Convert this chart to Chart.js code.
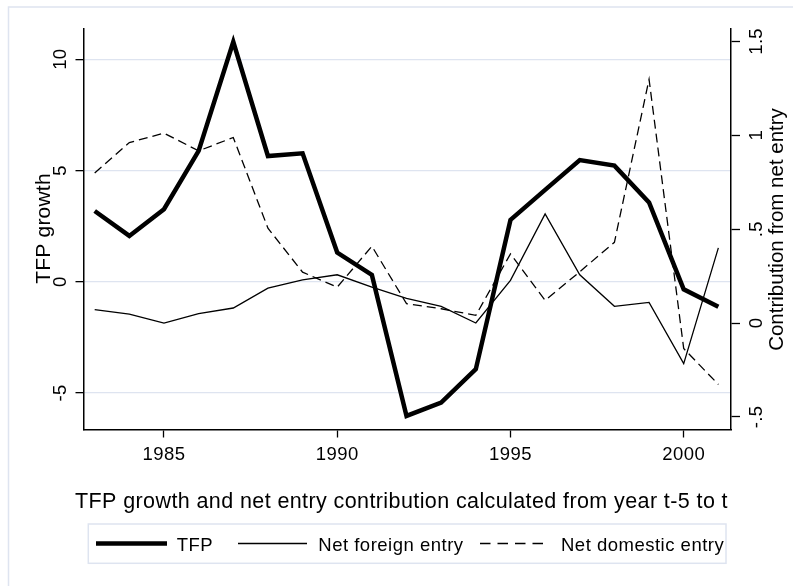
<!DOCTYPE html>
<html>
<head>
<meta charset="utf-8">
<script src="https://cdn.jsdelivr.net/npm/chart.js@4.4.0/dist/chart.umd.min.js"></script>
<style>
  html, body { margin: 0; padding: 0; background: #fff; }
  #wrap { position: relative; width: 793px; height: 586px; }
</style>
</head>
<body>
<div id="wrap"><canvas id="c" width="793" height="586"></canvas></div>
<script>
// Years on the horizontal axis
const years = [1983, 1984, 1985, 1986, 1987, 1988, 1989, 1990, 1991, 1992,
               1993, 1994, 1995, 1996, 1997, 1998, 1999, 2000, 2001];

// TFP growth (left axis)
const tfpGrowth = [3.18, 2.06, 3.26, 5.88, 10.78, 5.65, 5.77, 1.31, 0.31, -6.03,
                   -5.43, -3.93, 2.78, 4.13, 5.47, 5.22, 3.56, -0.34, -1.12];

// Contribution from net foreign entry (right axis)
const netForeignEntry = [0.071, 0.048, 0.0, 0.050, 0.080, 0.186, 0.230, 0.257, 0.191, 0.131,
                         0.089, 0.0, 0.227, 0.581, 0.257, 0.089, 0.110, -0.216, 0.40];

// Contribution from net domestic entry (right axis)
const netDomesticEntry = [0.799, 0.961, 1.011, 0.917, 0.988, 0.505, 0.271, 0.191, 0.409, 0.103,
                          0.076, 0.041, 0.368, 0.121, 0.273, 0.430, 1.298, -0.136, -0.327];

// Tick values and labels
const xTicks = [1985, 1990, 1995, 2000];
const leftTicks = [-5, 0, 5, 10];
const rightTicks = [-0.5, 0, 0.5, 1, 1.5];
const rightTickLabels = ['-.5', '0', '.5', '1', '1.5'];

// Text
const seriesLabels = ['TFP', 'Net foreign entry', 'Net domestic entry'];
const xTitle = 'TFP growth and net entry contribution calculated from year t-5 to t';
const leftTitle = 'TFP growth';
const rightTitle = 'Contribution from net entry';

const ink = '#000';
const pale = 'rgb(222,228,240)';
const FAMILY = '"Liberation Sans", Arial, Helvetica, sans-serif';

function pts(vals) { return years.map((y, i) => ({ x: y, y: vals[i] })); }

function txt(ctx, s, x, y, size, align, rot, spacing) {
  ctx.save();
  ctx.translate(x, y);
  if (rot) ctx.rotate(rot);
  ctx.font = size + 'px ' + FAMILY;
  ctx.fillStyle = ink;
  ctx.textAlign = align;
  ctx.textBaseline = 'alphabetic';
  if ('letterSpacing' in ctx) ctx.letterSpacing = spacing || '0px';
  ctx.fillText(s, 0, 0);
  ctx.restore();
}

// Outer frame, tick labels, axis titles and the legend box
const decorations = {
  id: 'decorations',
  beforeDraw(chart) {
    const ctx = chart.ctx;
    ctx.save();
    ctx.fillStyle = '#fff';
    ctx.fillRect(0, 0, chart.width, chart.height);
    ctx.strokeStyle = pale;
    ctx.lineWidth = 1.5;
    ctx.strokeRect(8.5, 7, 800, 600);
    ctx.restore();
  },
  afterDraw(chart) {
    const ctx = chart.ctx;
    const sx = chart.scales.x, sy = chart.scales.y, sy2 = chart.scales.y2;
    const up = -Math.PI / 2;

    xTicks.forEach(v => txt(ctx, String(v), sx.getPixelForValue(v), 460, 18.5, 'center', 0, '0.5px'));
    leftTicks.forEach(v => txt(ctx, String(v), 65.5, sy.getPixelForValue(v), 18.5, 'center', up, '0.3px'));
    rightTicks.forEach((v, i) => txt(ctx, rightTickLabels[i], 762, sy2.getPixelForValue(v), 18.5, 'center', up, '0.3px'));

    txt(ctx, leftTitle, 50, 228.5, 21, 'center', up, '0.2px');
    txt(ctx, rightTitle, 783, 229.5, 20.5, 'center', up, '0px');
    txt(ctx, xTitle, 401.5, 507.7, 21.5, 'center', 0, '0.4px');

    // legend
    ctx.save();
    ctx.strokeStyle = pale;
    ctx.lineWidth = 1.5;
    ctx.strokeRect(88.3, 524, 637.7, 39.3);
    const keys = [[96, 167, 176.7], [238, 307, 318.3], [480, 543, 561]];
    chart.data.datasets.forEach((ds, i) => {
      const k = keys[i];
      ctx.beginPath();
      ctx.strokeStyle = ds.borderColor;
      ctx.lineWidth = ds.borderWidth;
      ctx.setLineDash(ds.borderDash ? [10.5, 7] : []);
      ctx.moveTo(k[0], 543.5);
      ctx.lineTo(k[1], 543.5);
      ctx.stroke();
      ctx.setLineDash([]);
      txt(ctx, ds.label, k[2], 550.7, 18.5, 'left', 0, '0.5px');
    });
    ctx.restore();
  }
};

new Chart(document.getElementById('c'), {
  type: 'line',
  data: {
    datasets: [
      { label: seriesLabels[0], data: pts(tfpGrowth), yAxisID: 'y',
        borderColor: ink, borderWidth: 4.5, pointRadius: 0, tension: 0, fill: false },
      { label: seriesLabels[1], data: pts(netForeignEntry), yAxisID: 'y2',
        borderColor: ink, borderWidth: 1.3, pointRadius: 0, tension: 0, fill: false },
      { label: seriesLabels[2], data: pts(netDomesticEntry), yAxisID: 'y2',
        borderColor: ink, borderWidth: 1.3, borderDash: [9, 5], pointRadius: 0, tension: 0, fill: false }
    ]
  },
  options: {
    responsive: false,
    animation: false,
    devicePixelRatio: 1,
    layout: { padding: { top: 28.3, left: 0, right: 0, bottom: 0 } },
    plugins: { legend: { display: false }, tooltip: { enabled: false } },
    scales: {
      x: {
        type: 'linear', position: 'bottom', min: 1982.677, max: 2001.365,
        afterBuildTicks: s => { s.ticks = xTicks.map(v => ({ value: v })); },
        afterFit: s => { s.height = 156.5; },
        ticks: { display: false },
        grid: { drawOnChartArea: false, drawTicks: true, tickLength: 8, tickColor: ink, tickWidth: 1.3 },
        border: { display: true, color: ink, width: 1.5 }
      },
      y: {
        type: 'linear', position: 'left', min: -6.64, max: 11.39,
        afterBuildTicks: s => { s.ticks = leftTicks.map(v => ({ value: v })); },
        afterFit: s => { s.width = 83.5; },
        ticks: { display: false },
        grid: { color: pale, lineWidth: 1.3, drawTicks: true, tickLength: 8, tickColor: ink, tickWidth: 1.3 },
        border: { display: true, color: ink, width: 1.5 }
      },
      y2: {
        type: 'linear', position: 'right', min: -0.567, max: 1.5696,
        afterBuildTicks: s => { s.ticks = rightTicks.map(v => ({ value: v })); },
        afterFit: s => { s.width = 62; },
        ticks: { display: false },
        grid: { drawOnChartArea: false, drawTicks: true, tickLength: 9, tickColor: ink, tickWidth: 1.3 },
        border: { display: true, color: ink, width: 1.5 }
      }
    }
  },
  plugins: [decorations]
});
</script>
</body>
</html>
